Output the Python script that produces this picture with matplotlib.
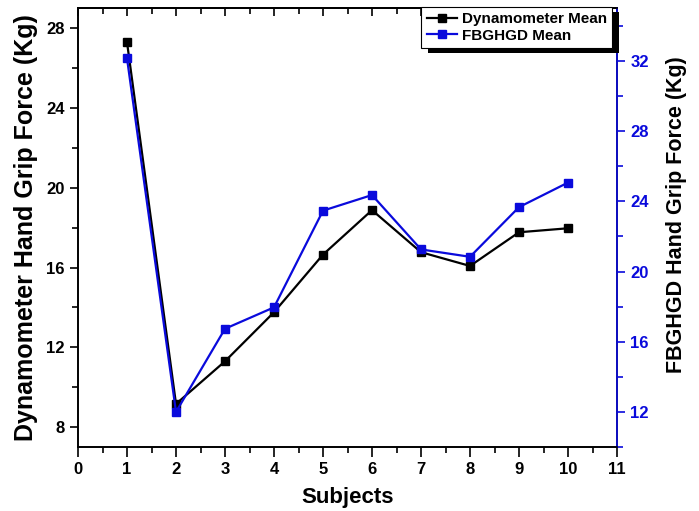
import numpy as np
import matplotlib.pyplot as plt
from matplotlib.patches import Rectangle
from matplotlib.transforms import IdentityTransform
from matplotlib.ticker import MultipleLocator

plt.rcParams['font.family'] = ['Liberation Sans', 'DejaVu Sans']
plt.rcParams['font.weight'] = 'bold'

# Mean hand grip force per subject
subjects = [1, 2, 3, 4, 5, 6, 7, 8, 9, 10]
dyn_mean = [27.3, 9.16, 11.3, 13.76, 16.65, 18.88, 16.77, 16.08, 17.77, 17.97]
fbg_mean = [32.15, 12.0, 16.74, 17.96, 23.47, 24.36, 21.26, 20.84, 23.67, 25.07]

blue = '#0a0adc'

fig = plt.figure(figsize=(6.99, 5.11), dpi=100)
ax = fig.add_axes([0.1116, 0.1252, 0.7711, 0.8585])
ax2 = ax.twinx()

l1, = ax.plot(subjects, dyn_mean, '-s', color='black', lw=1.6, ms=6,
              label='Dynamometer Mean')
l2, = ax2.plot(subjects, fbg_mean, '-s', color=blue, lw=1.6, ms=6,
               label='FBGHGD Mean')

ax.set_xlim(0, 11)
ax.set_ylim(7, 29)
ax2.set_ylim(10, 35)

ax.xaxis.set_major_locator(MultipleLocator(1))
ax.xaxis.set_minor_locator(MultipleLocator(0.5))
ax.yaxis.set_major_locator(MultipleLocator(4))
ax.yaxis.set_minor_locator(MultipleLocator(2))
ax2.yaxis.set_major_locator(MultipleLocator(4))
ax2.yaxis.set_minor_locator(MultipleLocator(2))

for sp in ax.spines.values():
    sp.set_linewidth(1.2)
for sp in ax2.spines.values():
    sp.set_linewidth(1.2)
ax2.spines['right'].set_color(blue)

ax.tick_params(axis='x', which='major', direction='out', length=7, width=1.2,
               labelsize=12, top=False)
ax.tick_params(axis='x', which='minor', direction='out', length=4, width=1.2, top=False)
ax.tick_params(axis='y', which='major', direction='out', length=6, width=1.2, labelsize=12)
ax.tick_params(axis='y', which='minor', direction='out', length=4, width=1.2)
ax2.tick_params(axis='y', which='major', direction='out', length=6, width=1.2,
                labelsize=12, colors=blue)
ax2.tick_params(axis='y', which='minor', direction='out', length=4, width=1.2,
                colors=blue)

# top axis ticks point inward
top = ax.secondary_xaxis('top')
top.xaxis.set_major_locator(MultipleLocator(1))
top.xaxis.set_minor_locator(MultipleLocator(0.5))
top.tick_params(which='major', direction='in', length=6, width=1.2, labeltop=False)
top.tick_params(which='minor', direction='in', length=4, width=1.2)
top.spines['top'].set_linewidth(1.2)

ax.set_xlabel('Subjects', fontsize=16, fontweight='bold')
ax.xaxis.set_label_coords(0.5, -0.09)
ax.set_ylabel('Dynamometer Hand Grip Force (Kg)', fontsize=18, fontweight='bold', labelpad=6)
ax2.set_ylabel('FBGHGD Hand Grip Force (Kg)', fontsize=15.5, fontweight='bold')
ax2.yaxis.set_label_coords(1.09, 0.53)

leg = ax2.legend(handles=[l1, l2], loc='upper right', bbox_to_anchor=(0.991, 1.003),
                 fancybox=False, framealpha=1, edgecolor='black', fontsize=11,
                 borderpad=0.35, labelspacing=0.15, handlelength=2.0, handletextpad=0.3,
                 borderaxespad=0)
leg.get_frame().set_linewidth(0.8)
leg.set_zorder(10)

# solid black drop shadow behind the legend
fig.canvas.draw()
bb = leg.get_window_extent()
shadow = Rectangle((bb.x0 + 7, bb.y0 - 5), bb.width, bb.height,
                   transform=IdentityTransform(), facecolor='black',
                   edgecolor='none', zorder=9, clip_on=False)
ax2.add_artist(shadow)

fig.savefig('out.png', dpi=100)
